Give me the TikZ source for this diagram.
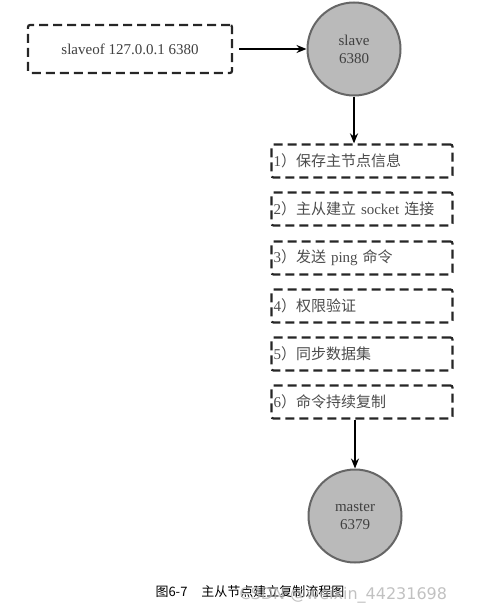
\documentclass[tikz,border=0pt]{standalone}
\usepackage{fontspec}
\setmainfont{Liberation Serif}
\newfontfamily\cjk{Noto Sans CJK SC}
\newfontfamily\wmfont{DejaVu Sans}
\usetikzlibrary{arrows.meta}
\begin{document}
\begin{tikzpicture}[x=1pt,y=-1pt,
  dbox/.style={draw=black!85, line width=2.2pt, dash pattern=on 9pt off 5pt, rounded corners=2pt, minimum height=33pt, inner sep=0pt},
  circ/.style={circle, draw=black!60, line width=2pt, fill=black!27, minimum size=93pt, inner sep=0pt, align=center, font=\fontsize{15}{18}\selectfont, text=black!75},
  arr/.style={-{Stealth[length=10pt,width=8pt]}, line width=2pt, black},
  stepbox/.style={dbox, minimum width=181pt, text width=177pt, align=left, font=\fontsize{15}{17}\selectfont, text=black!70}
]
\useasboundingbox (0,0) rectangle (481,613);
\node[dbox, minimum width=204pt, minimum height=48pt, font=\fontsize{15}{18}\selectfont, text=black!75] (cmd) at (130,49) {slaveof 127.0.0.1 6380};
\node[circ] (slave) at (354,49) {slave\\6380};
\node[stepbox] (s1) at (362,161) {1{\cjk ）保存主节点信息}};
\node[stepbox] (s2) at (362,209) {2{\cjk ）主从建立} socket {\cjk 连接}};
\node[stepbox] (s3) at (362,258) {3{\cjk ）发送} ping {\cjk 命令}};
\node[stepbox] (s4) at (362,306) {4{\cjk ）权限验证}};
\node[stepbox] (s5) at (362,354) {5{\cjk ）同步数据集}};
\node[stepbox] (s6) at (362,402) {6{\cjk ）命令持续复制}};
\node[circ] (master) at (355,516) {master\\6379};
\draw[arr] (cmd.east) ++(6,0) coordinate (c1) -- (slave.west);
\draw[arr] (slave.south) -- (slave.south |- s1.north);
\draw[arr] (s6.south -| master.north) -- (master.north);
\node[anchor=west, font=\fontsize{13}{15}\selectfont\cjk] (cap) at (152,592) {图6-7\hspace{14pt}主从节点建立复制流程图};
\node[anchor=west, font=\fontsize{16}{18}\selectfont\wmfont, text=black!30, opacity=0.8] (wm) at (236,595) {CSDN @weixin\_44231698};
\end{tikzpicture}
\end{document}
